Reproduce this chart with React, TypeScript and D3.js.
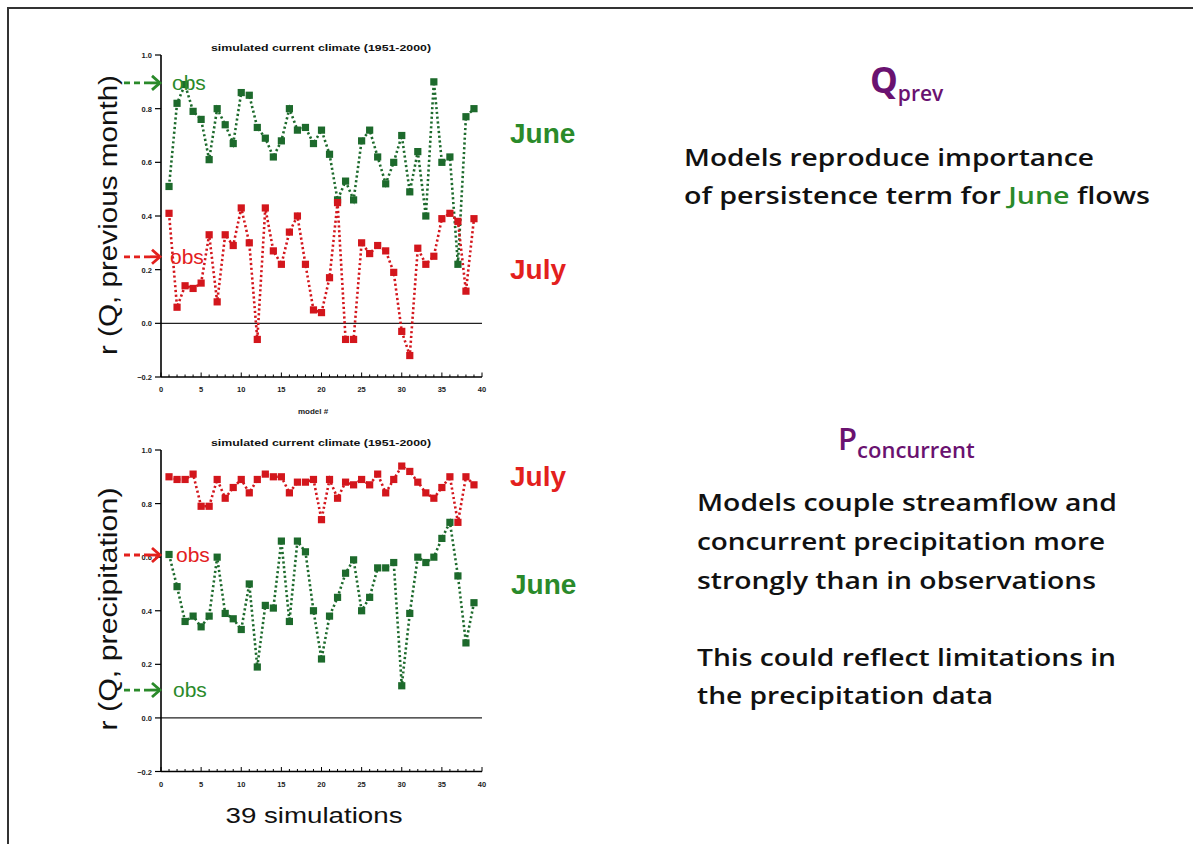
import React from "react";
import * as d3 from "d3";

// Correlation of streamflow with previous-month flow, per model run
const prevJune = [0.51, 0.82, 0.89, 0.79, 0.76, 0.61, 0.80, 0.74, 0.67, 0.86, 0.85, 0.73, 0.69, 0.62, 0.68, 0.80, 0.72, 0.73, 0.67, 0.72, 0.63, 0.46, 0.53, 0.46, 0.68, 0.72, 0.62, 0.52, 0.60, 0.70, 0.49, 0.64, 0.40, 0.90, 0.60, 0.62, 0.22, 0.77, 0.80];
const prevJuly = [0.41, 0.06, 0.14, 0.13, 0.15, 0.33, 0.08, 0.33, 0.29, 0.43, 0.30, -0.06, 0.43, 0.27, 0.22, 0.34, 0.40, 0.22, 0.05, 0.04, 0.17, 0.45, -0.06, -0.06, 0.30, 0.26, 0.29, 0.27, 0.19, -0.03, -0.12, 0.28, 0.22, 0.25, 0.39, 0.41, 0.38, 0.12, 0.39];
const prevObs = { june: 0.896, july: 0.248 };

// Correlation of streamflow with concurrent precipitation, per model run
const precipJuly = [0.90, 0.89, 0.89, 0.91, 0.79, 0.79, 0.89, 0.82, 0.86, 0.89, 0.84, 0.89, 0.91, 0.90, 0.90, 0.84, 0.88, 0.88, 0.89, 0.74, 0.89, 0.82, 0.88, 0.87, 0.89, 0.87, 0.91, 0.84, 0.89, 0.94, 0.92, 0.88, 0.84, 0.82, 0.86, 0.90, 0.73, 0.90, 0.87];
const precipJune = [0.61, 0.49, 0.36, 0.38, 0.34, 0.38, 0.60, 0.39, 0.37, 0.33, 0.50, 0.19, 0.42, 0.41, 0.66, 0.36, 0.66, 0.62, 0.40, 0.22, 0.38, 0.45, 0.54, 0.59, 0.40, 0.45, 0.56, 0.56, 0.58, 0.12, 0.39, 0.60, 0.58, 0.60, 0.67, 0.73, 0.53, 0.28, 0.43];
const precipObs = { june: 0.104, july: 0.608 };

const yTicks = [-0.2, 0.0, 0.2, 0.4, 0.6, 0.8, 1.0];
const xMajorTicks = [0, 5, 10, 15, 20, 25, 30, 35, 40];
const xDomain: [number, number] = [0, 40];
const yDomain: [number, number] = [-0.2, 1.0];
const panelTitle = "simulated current climate (1951-2000)";

const GREEN = "#1d6a2c";
const RED = "#d3161c";
const GREEN_TXT = "#2a8a2a";
const RED_TXT = "#e3201d";
const PURPLE = "#6a1270";
const AXIS_FONT = "'Liberation Sans', Arial, sans-serif";
const TEXT_FONT = "'Open Sans', 'Noto Sans', sans-serif";

type Series = { values: number[]; color: string };

function ObsArrow({ y, color, x0, textX }: { y: number; color: string; x0: number; textX: number }) {
  return (
    <g>
      <line x1={x0} x2={x0 + 30} y1={y} y2={y} stroke={color} strokeWidth={2.8} strokeDasharray="6,4" />
      <line x1={x0 + 26} x2={x0 + 36} y1={y} y2={y} stroke={color} strokeWidth={2.8} />
      <path d={`M${x0 + 28},${y - 7} L${x0 + 36},${y} L${x0 + 28},${y + 7}`} fill="none" stroke={color} strokeWidth={2.8} />
      <text x={textX} y={y + 7} fontFamily={AXIS_FONT} fontSize={21} fill={color}>obs</text>
    </g>
  );
}

function Panel({
  top, bottom, series, obs, showModelLabel,
}: {
  top: number; bottom: number; series: Series[];
  obs: { value: number; color: string; textX: number }[]; showModelLabel: boolean;
}) {
  const x = d3.scaleLinear().domain(xDomain).range([161, 482]);
  const y = d3.scaleLinear().domain(yDomain).range([bottom, top]);
  const fmt = d3.format(".1f");
  const line = d3.line<number>().x((_, i) => x(i + 1)).y((d) => y(d));
  const minor = d3.range(0, 41);
  return (
    <g>
      <text x={321} y={top - 4} textAnchor="middle" fontFamily={AXIS_FONT} fontWeight="bold" fontSize={9.5}
        textLength={220} lengthAdjust="spacingAndGlyphs" fill="#111">{panelTitle}</text>
      {/* zero reference line */}
      <line x1={x(0)} x2={x(40)} y1={y(0)} y2={y(0)} stroke="#222" strokeWidth={1.2} />
      {/* y axis */}
      <line x1={x(0)} x2={x(0)} y1={y(1)} y2={y(-0.2)} stroke="#000" strokeWidth={1.6} />
      {yTicks.map((t) => (
        <g key={t}>
          <line x1={x(0) - 6} x2={x(0)} y1={y(t)} y2={y(t)} stroke="#000" strokeWidth={1.2} />
          <text x={x(0) - 9} y={y(t) + 3} textAnchor="end" fontFamily={AXIS_FONT} fontWeight="bold" fontSize={7.5} fill="#222">{fmt(t)}</text>
        </g>
      ))}
      {/* x axis */}
      <line x1={x(0)} x2={x(40)} y1={y(-0.2)} y2={y(-0.2)} stroke="#000" strokeWidth={1.6} />
      {minor.map((t) => (
        <line key={t} x1={x(t)} x2={x(t)} y1={y(-0.2)} y2={y(-0.2) - (t % 5 === 0 ? 4.5 : 2.5)} stroke="#000" strokeWidth={1} />
      ))}
      {xMajorTicks.map((t) => (
        <text key={t} x={x(t)} y={y(-0.2) + 15} textAnchor="middle" fontFamily={AXIS_FONT} fontWeight="bold" fontSize={7.5} fill="#222">{t}</text>
      ))}
      {showModelLabel && (
        <text x={313} y={y(-0.2) + 37} textAnchor="middle" fontFamily={AXIS_FONT} fontWeight="bold" fontSize={8} fill="#222">model #</text>
      )}
      {series.map((s, si) => (
        <g key={si}>
          <path d={line(s.values) || ""} fill="none" stroke={s.color} strokeWidth={2.6} strokeDasharray="2.2,2.6" />
          {s.values.map((v, i) => (
            <rect key={i} x={x(i + 1) - 3.6} y={y(v) - 3.6} width={7.2} height={7.2} fill={s.color} />
          ))}
        </g>
      ))}
      {obs.map((o, i) => (
        <ObsArrow key={i} y={y(o.value)} color={o.color} x0={124} textX={o.textX} />
      ))}
    </g>
  );
}

export default function App() {
  return (
    <svg width={1193} height={844} style={{ position: "absolute", left: 0, top: 0, background: "#fff" }}>
      <rect x={0} y={0} width={1193} height={844} fill="#fff" />
      {/* slide frame */}
      <path d="M8,846 L8,8 L1195,8" fill="none" stroke="#333" strokeWidth={2} />

      <Panel top={55} bottom={377}
        series={[{ values: prevJune, color: GREEN }, { values: prevJuly, color: RED }]}
        obs={[{ value: prevObs.june, color: GREEN_TXT, textX: 172 }, { value: prevObs.july, color: RED_TXT, textX: 170 }]}
        showModelLabel={true} />
      <Panel top={450} bottom={771.5}
        series={[{ values: precipJune, color: GREEN }, { values: precipJuly, color: RED }]}
        obs={[{ value: precipObs.july, color: RED_TXT, textX: 176 }, { value: precipObs.june, color: GREEN_TXT, textX: 173 }]}
        showModelLabel={false} />

      {/* y axis titles */}
      <text transform="translate(117,215) rotate(-90)" textAnchor="middle" fontFamily={AXIS_FONT} fontSize={25}
        textLength={280} lengthAdjust="spacingAndGlyphs" fill="#111">r (Q, previous month)</text>
      <text transform="translate(117,609) rotate(-90)" textAnchor="middle" fontFamily={AXIS_FONT} fontSize={25}
        textLength={243} lengthAdjust="spacingAndGlyphs" fill="#111">r (Q, precipitation)</text>
      <text x={314} y={823} textAnchor="middle" fontFamily={AXIS_FONT} fontSize={22}
        textLength={177} lengthAdjust="spacingAndGlyphs" fill="#111">39 simulations</text>

      {/* month labels */}
      <text x={510} y={143} fontFamily={AXIS_FONT} fontWeight="bold" fontSize={28} fill={GREEN_TXT}>June</text>
      <text x={510} y={279} fontFamily={AXIS_FONT} fontWeight="bold" fontSize={28} fill={RED_TXT}>July</text>
      <text x={510} y={486} fontFamily={AXIS_FONT} fontWeight="bold" fontSize={28} fill={RED_TXT}>July</text>
      <text x={511} y={594} fontFamily={AXIS_FONT} fontWeight="bold" fontSize={28} fill={GREEN_TXT}>June</text>

      {/* commentary */}
      <text x={870} y={93} fontFamily={TEXT_FONT} fontWeight={700} fill={PURPLE}>
        <tspan fontSize={35}>Q</tspan>
        <tspan fontSize={21} dy={8} fontWeight={600}>prev</tspan>
      </text>
      <g fontFamily={TEXT_FONT} fontWeight={600} fontSize={24} fill="#111">
        <text x={684} y={166} textLength={410} lengthAdjust="spacingAndGlyphs">Models reproduce importance</text>
        <text x={684} y={204} textLength={466} lengthAdjust="spacingAndGlyphs">
          of persistence term for <tspan fill={GREEN_TXT}>June</tspan> flows
        </text>
      </g>
      <text x={838} y={450} fontFamily={TEXT_FONT} fontWeight={600} fill={PURPLE}>
        <tspan fontSize={31}>P</tspan>
        <tspan fontSize={22} dy={8}>concurrent</tspan>
      </text>
      <g fontFamily={TEXT_FONT} fontWeight={600} fontSize={24} fill="#111">
        <text x={697} y={511} textLength={420} lengthAdjust="spacingAndGlyphs">Models couple streamflow and</text>
        <text x={697} y={550} textLength={408} lengthAdjust="spacingAndGlyphs">concurrent precipitation more</text>
        <text x={697} y={589} textLength={399} lengthAdjust="spacingAndGlyphs">strongly than in observations</text>
        <text x={697} y={666} textLength={419} lengthAdjust="spacingAndGlyphs">This could reflect limitations in</text>
        <text x={697} y={704} textLength={296} lengthAdjust="spacingAndGlyphs">the precipitation data</text>
      </g>
    </svg>
  );
}
